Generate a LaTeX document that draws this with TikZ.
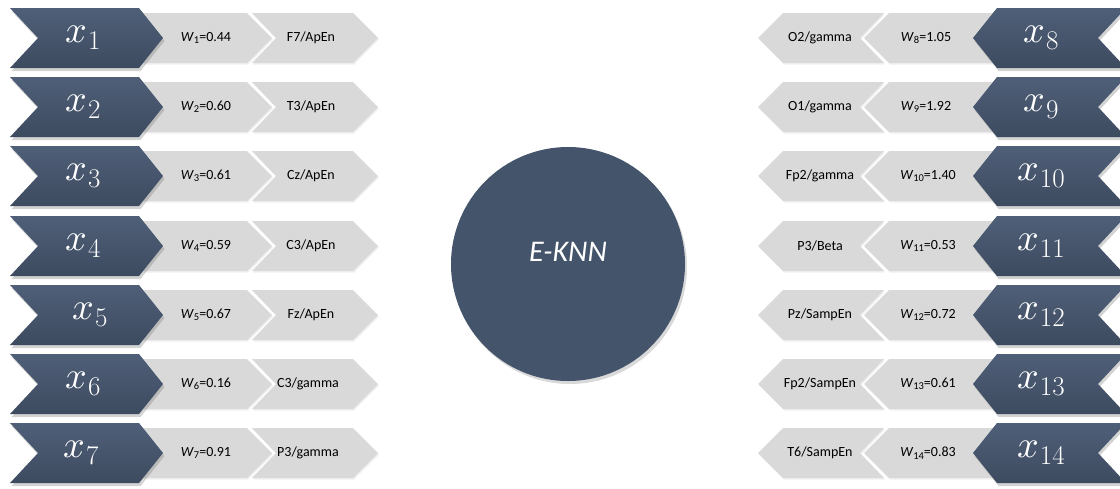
\documentclass[tikz,border=0pt]{standalone}
\usepackage{fontspec}
\usepackage{unicode-math}
\setmainfont{Carlito}
\setmathfont{Latin Modern Math}
\newfontfamily\lmrfam{Latin Modern Roman}
\usetikzlibrary{shadows}
\definecolor{navy}{HTML}{44546A}
\definecolor{navytop}{HTML}{4F5F78}
\definecolor{navybot}{HTML}{3D4B5F}
\definecolor{boxgray}{HTML}{D9D9D9}
\newcommand{\chevrow}[1]{%
  \path[graychev] (252,#1-25) -- (353,#1-25) -- (378,#1) -- (353,#1+25) -- (252,#1+25) -- (276,#1) -- cycle;
  \path[graychev] (143,#1-25) -- (247,#1-25) -- (272,#1) -- (247,#1+25) -- (143,#1+25) -- cycle;
  \path[darkchev] (10,#1-30) -- (139,#1-30) -- (163,#1) -- (139,#1+30) -- (10,#1+30) -- (38,#1) -- cycle;
}
\newcommand{\xsub}[1]{$x$\kern1pt\raisebox{-7pt}{\lmrfam\fontsize{27}{27}\selectfont #1}}
\newcommand{\wsub}[2]{\textit{W}\raisebox{-2.5pt}{\fontsize{10.5}{11}\selectfont #1}=#2}
\begin{document}
\begin{tikzpicture}[x=1pt,y=-1pt,
  darkchev/.style={top color=navytop,bottom color=navybot,
    drop shadow={opacity=0.35,shadow xshift=1.5pt,shadow yshift=-3pt}},
  graychev/.style={fill=boxgray,
    drop shadow={opacity=0.12,shadow xshift=1pt,shadow yshift=-1.5pt}},
  xlab/.style={text=white,font=\fontsize{38}{40}\selectfont,inner sep=0pt},
  wlab/.style={text=black,font=\fontsize{14}{16}\selectfont,inner sep=0pt},
  knnlab/.style={text=white,font=\itshape\fontsize{30}{32}\selectfont,inner sep=0pt},
  hub/.style={circle,fill=navy,minimum size=234pt,inner sep=0pt,
    drop shadow={opacity=0.3,shadow xshift=2pt,shadow yshift=-3pt}}]
\useasboundingbox (0,0) rectangle (1120,488);
% left rows
\foreach \c in {38,107,176,246,315,384,453}{\chevrow{\c}}
% right rows (mirrored)
\begin{scope}[shift={(1136,0)},xscale=-1]
\foreach \c in {38,107,176,246,315,384,453}{\chevrow{\c}}
\end{scope}
% centre circle
\node[hub] (hub) at (568,264) {};
\node[knnlab] (knn) at (568,252) {E-KNN};
% left labels
\node[xlab] (x1) at (83,38) {\xsub{1}};
\node[xlab] (x2) at (83,107) {\xsub{2}};
\node[xlab] (x3) at (83,176) {\xsub{3}};
\node[xlab] (x4) at (83,246) {\xsub{4}};
\node[xlab] (x5) at (90,315) {\xsub{5}};
\node[xlab] (x6) at (83,384) {\xsub{6}};
\node[xlab] (x7) at (81,453) {\xsub{7}};
\node[wlab] (w1) at (206,38) {\wsub{1}{0.44}};
\node[wlab] (w2) at (206,107) {\wsub{2}{0.60}};
\node[wlab] (w3) at (206,176) {\wsub{3}{0.61}};
\node[wlab] (w4) at (206,246) {\wsub{4}{0.59}};
\node[wlab] (w5) at (206,315) {\wsub{5}{0.67}};
\node[wlab] (w6) at (206,384) {\wsub{6}{0.16}};
\node[wlab] (w7) at (206,453) {\wsub{7}{0.91}};
\node[wlab] (f1) at (311,38) {F7/ApEn};
\node[wlab] (f2) at (311,107) {T3/ApEn};
\node[wlab] (f3) at (311,176) {Cz/ApEn};
\node[wlab] (f4) at (311,246) {C3/ApEn};
\node[wlab] (f5) at (311,315) {Fz/ApEn};
\node[wlab] (f6) at (308,384) {C3/gamma};
\node[wlab] (f7) at (308,453) {P3/gamma};
% right labels
\node[xlab] (x8) at (1041,38) {\xsub{8}};
\node[xlab] (x9) at (1041,107) {\xsub{9}};
\node[xlab] (x10) at (1041,176) {\xsub{10}};
\node[xlab] (x11) at (1041,246) {\xsub{11}};
\node[xlab] (x12) at (1041,315) {\xsub{12}};
\node[xlab] (x13) at (1041,384) {\xsub{13}};
\node[xlab] (x14) at (1041,453) {\xsub{14}};
\node[wlab] (w8) at (926,38) {\wsub{8}{1.05}};
\node[wlab] (w9) at (926,107) {\wsub{9}{1.92}};
\node[wlab] (w10) at (928,176) {\wsub{10}{1.40}};
\node[wlab] (w11) at (928,246) {\wsub{11}{0.53}};
\node[wlab] (w12) at (928,315) {\wsub{12}{0.72}};
\node[wlab] (w13) at (928,384) {\wsub{13}{0.61}};
\node[wlab] (w14) at (928,453) {\wsub{14}{0.83}};
\node[wlab] (f8) at (820,38) {O2/gamma};
\node[wlab] (f9) at (820,107) {O1/gamma};
\node[wlab] (f10) at (820,176) {Fp2/gamma};
\node[wlab] (f11) at (820,246) {P3/Beta};
\node[wlab] (f12) at (820,315) {Pz/SampEn};
\node[wlab] (f13) at (820,384) {Fp2/SampEn};
\node[wlab] (f14) at (820,453) {T6/SampEn};
\end{tikzpicture}
\end{document}
